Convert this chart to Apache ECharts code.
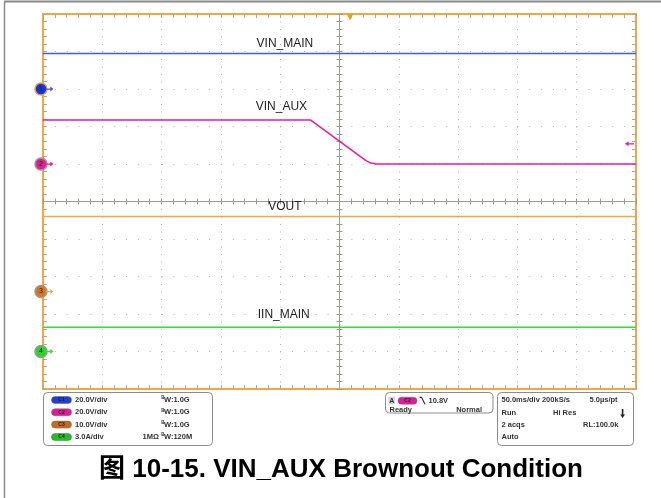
<!DOCTYPE html>
<html>
<head>
<meta charset="utf-8">
<script src="https://cdn.jsdelivr.net/npm/echarts@6/dist/echarts.min.js"></script>
<style>
html,body{margin:0;padding:0;background:#fff;}
#chart{width:661px;height:498px;}
</style>
</head>
<body>
<div id="chart"></div>
<script>
// ---- data (time in ms, 50 ms/div; values in channel units) ----
const channelNames = ['VIN_MAIN', 'VIN_AUX', 'VOUT', 'IIN_MAIN'];
const vinMainTime = [-250, 250];
const vinMainValue = [19.0, 19.0];
const vinAuxTime = [-250, -24.5, 22.0, 26.5, 31.0, 250];
const vinAuxValue = [23.5, 23.5, 1.9, 0.5, 0.0, 0.0];
const voutTime = [-250, 250];
const voutValue = [20.0, 20.0];
const iinMainTime = [-250, 250];
const iinMainValue = [1.95, 1.95];
const unitsPerDiv = [20, 20, 10, 3];
const groundDiv = [3, 1, -2.4, -4];
const scaleLabels = ['20.0V/div', '20.0V/div', '10.0V/div', '3.0A/div'];
const bwLabels = ['W:1.0G', 'W:1.0G', 'W:1.0G', 'W:120M'];
const triggerLevel = 10.8;
const triggerTime = 8.9;
const timeMin = -250, timeMax = 250, timePerDiv = 50;
const divMin = -5, divMax = 5;

// ---- styling config ----
const traceColors = ['#3c5ee6', '#f01a9a', '#f7a54d', '#33dd33'];
const markerColors = ['#1434e0', '#e0208f', '#d8771f', '#2bd42b'];
const markerBorders = ['#f0a030', '#999', '#999', '#999'];
const badgeColors = ['#1f3fd8', '#e01a9c', '#c86a1c', '#22c022'];
const labelTime = [-46, -49, -46, -47];
const labelOffset = [-10, -13, -10, -12];

const seriesTime = [vinMainTime, vinAuxTime, voutTime, iinMainTime];
const seriesValue = [vinMainValue, vinAuxValue, voutValue, iinMainValue];

const arrowRight = 'path://M0,4 L6,4 L6,1 L10,5 L6,9 L6,6 L0,6 Z';
const arrowLeft = 'path://M10,4 L4,4 L4,1 L0,5 L4,9 L4,6 L10,6 Z';
const tickGray = '#a8a8a8';
const centerGray = '#9c9a8c';

function frameX(pos, withSplit) {
  return {
    type: 'value', min: timeMin, max: timeMax, interval: timePerDiv, position: pos,
    axisLine: { show: false, onZero: false },
    axisTick: { show: true, inside: true, length: 4, lineStyle: { color: tickGray } },
    minorTick: { show: true, splitNumber: 5, length: 4, lineStyle: { color: tickGray } },
    axisLabel: { show: false },
    splitLine: { show: withSplit, lineStyle: { color: '#b0b0b0', width: 1, type: [1, 6.5] } }
  };
}
function frameY(pos, withSplit) {
  return {
    type: 'value', min: divMin, max: divMax, interval: 1, position: pos,
    axisLine: { show: false, onZero: false },
    axisTick: { show: true, inside: true, length: 4, lineStyle: { color: tickGray } },
    minorTick: { show: true, splitNumber: 5, length: 4, lineStyle: { color: tickGray } },
    axisLabel: { show: false },
    splitLine: { show: withSplit, lineStyle: { color: '#b0b0b0', width: 1, type: [1, 10.86] } }
  };
}
function centerX(inside) {
  return {
    type: 'value', min: timeMin, max: timeMax, interval: timePerDiv, position: 'bottom', offset: -187.5,
    axisLine: { show: true, onZero: false, lineStyle: { color: centerGray, width: 1 } },
    axisTick: { show: true, inside: inside, length: 3, lineStyle: { color: centerGray } },
    minorTick: { show: true, splitNumber: 5, length: 3, lineStyle: { color: centerGray } },
    axisLabel: { show: false }, splitLine: { show: false }
  };
}
function centerY(inside) {
  return {
    type: 'value', min: divMin, max: divMax, interval: 1, position: 'left', offset: -296.5,
    axisLine: { show: true, onZero: false, lineStyle: { color: centerGray, width: 1 } },
    axisTick: { show: true, inside: inside, length: 3, lineStyle: { color: centerGray } },
    minorTick: { show: true, splitNumber: 5, length: 3, lineStyle: { color: centerGray } },
    axisLabel: { show: false }, splitLine: { show: false }
  };
}

const xAxes = [frameX('bottom', true), frameX('top', false), centerX(true), centerX(false)];
const yAxes = [frameY('left', true), frameY('right', false), centerY(true), centerY(false)];
for (let i = 0; i < 4; i++) {
  yAxes.push({
    type: 'value', show: false,
    min: (divMin - groundDiv[i]) * unitsPerDiv[i],
    max: (divMax - groundDiv[i]) * unitsPerDiv[i],
    axisLine: { onZero: false }
  });
}

const series = [];
for (let i = 0; i < 4; i++) {
  const data = seriesTime[i].map((t, k) => [t, seriesValue[i][k]]);
  const levelAtLabel = (function () {
    const ts = seriesTime[i], vs = seriesValue[i];
    for (let k = 0; k < ts.length - 1; k++) {
      if (labelTime[i] >= ts[k] && labelTime[i] <= ts[k + 1]) return vs[k];
    }
    return vs[0];
  })();
  const mp = [
    { coord: [timeMin, 0], symbol: 'circle', symbolSize: 12, symbolOffset: [-2, 0],
      itemStyle: { color: markerColors[i], borderColor: markerBorders[i], borderWidth: 1.5 },
      label: { show: true, formatter: String(i + 1), position: 'inside', fontSize: 7, color: '#222',
               fontFamily: 'Liberation Sans, Arial, sans-serif' } },
    { coord: [timeMin, 0], symbol: arrowRight, symbolSize: [8, 5], symbolOffset: [6.5, 0],
      itemStyle: { color: traceColors[i] }, label: { show: false } },
    { coord: [labelTime[i], levelAtLabel], symbol: 'circle', symbolSize: 0,
      label: { show: true, formatter: channelNames[i], position: 'inside', offset: [0, labelOffset[i]],
               fontSize: 12, color: '#222', fontFamily: 'Liberation Sans, Arial, sans-serif' } }
  ];
  if (i === 1) {
    mp.push({ coord: [timeMax, triggerLevel], symbol: arrowLeft, symbolSize: [9, 5], symbolOffset: [-6.5, 0],
              itemStyle: { color: traceColors[1] }, label: { show: false } });
    mp.push({ coord: [triggerTime, yAxes[5].max], symbol: 'triangle', symbolRotate: 180, symbolSize: [6, 6],
              symbolOffset: [0, 3.5], itemStyle: { color: '#f39a1e' }, label: { show: false } });
  }
  series.push({
    type: 'line', name: channelNames[i], xAxisIndex: 0, yAxisIndex: 4 + i,
    data: data, symbol: 'none', clip: false, z: 5,
    lineStyle: { color: traceColors[i], width: 1.5 },
    markPoint: { data: mp, silent: true, animation: false, z: 6 }
  });
}

// ---- status panel & caption (UI text) ----
const FONT = "'Liberation Sans', Arial, sans-serif";
const g = [];
g.push({ type: 'line', shape: { x1: 4.5, y1: 498, x2: 4.5, y2: 1.5 }, style: { stroke: '#8a8a8a', lineWidth: 1.5 } });
g.push({ type: 'line', shape: { x1: 4, y1: 1.5, x2: 661, y2: 1.5 }, style: { stroke: '#8a8a8a', lineWidth: 2 } });
function txt(x, y, text, opts) {
  opts = opts || {};
  return { type: 'text', x: x, y: y, z: 10,
    style: { text: text, font: opts.font || ('bold 7.5px ' + FONT), fill: opts.fill || '#333',
             align: opts.align || 'left', verticalAlign: 'middle' } };
}
function box(x, y, w, h) {
  return { type: 'rect', z: 9, shape: { x: x, y: y, width: w, height: h, r: 4 },
           style: { fill: '#fff', stroke: '#8c8c8c', lineWidth: 1 } };
}
function badge(x, y, w, color, label) {
  return [
    { type: 'rect', z: 10, shape: { x: x, y: y, width: w, height: 7, r: 3.5 }, style: { fill: color, stroke: '#666', lineWidth: 0.5 } },
    txt(x + w / 2, y + 3.6, label, { font: 'bold 5px ' + FONT, fill: '#222', align: 'center' })
  ];
}
g.push(box(43.5, 392.5, 169, 53));
g.push(box(385.5, 392.5, 107.5, 20.5));
g.push(box(497.5, 392.5, 136, 53));
const rowY = [400, 412.3, 424.6, 437];
for (let i = 0; i < 4; i++) {
  g.push.apply(g, badge(51.5, rowY[i] - 3.5, 20, badgeColors[i], 'C' + (i + 1)));
  g.push(txt(75, rowY[i], scaleLabels[i]));
  g.push(txt(161.2, rowY[i] - 2, 'B', { font: 'bold 4.5px ' + FONT }));
  g.push(txt(164, rowY[i], bwLabels[i]));
}
g.push(txt(142.5, rowY[3], '1MΩ'));
// trigger box
g.push({ type: 'rect', z: 10, shape: { x: 388.5, y: 396.5, width: 6.5, height: 8 }, style: { fill: '#d8d8d8' } });
g.push(txt(391.7, 400.7, 'A', { font: 'bold 7px ' + FONT, align: 'center' }));
g.push.apply(g, badge(398, 397.2, 19, badgeColors[1], 'C2'));
g.push({ type: 'polyline', z: 10, shape: { points: [[419.5, 397.3], [421.5, 397.3], [425, 404.3]] }, style: { stroke: '#333', lineWidth: 1.2, fill: null } });
g.push(txt(428.5, 400.5, '10.8V'));
g.push(txt(389.5, 410.3, 'Ready'));
g.push(txt(482, 410.3, 'Normal', { align: 'right' }));
// acquisition box
g.push(txt(501.5, 400, '50.0ms/div 200kS/s'));
g.push(txt(589.5, 400, '5.0µs/pt'));
g.push(txt(501.5, 413, 'Run'));
g.push(txt(553, 413, 'Hi Res'));
g.push({ type: 'polygon', z: 10, shape: { points: [[621.8, 409], [623.4, 409], [623.4, 414.5], [625, 414.5], [622.6, 418], [620.2, 414.5], [621.8, 414.5]] }, style: { fill: '#222' } });
g.push(txt(501.5, 425, '2 acqs'));
g.push(txt(583, 425, 'RL:100.0k'));
g.push(txt(501.5, 437.3, 'Auto'));
// caption
g.push({ type: 'text', x: 341, y: 470, z: 10,
  style: { text: '图 10-15. VIN_AUX Brownout Condition',
           font: "bold 26px 'Liberation Sans', Arial, 'Noto Sans CJK SC', sans-serif",
           fill: '#000', align: 'center', verticalAlign: 'middle' } });

const chart = echarts.init(document.getElementById('chart'), null, { renderer: 'canvas' });
chart.setOption({
  animation: false,
  backgroundColor: '#fff',
  grid: { left: 43, top: 14, width: 593, height: 375, show: true, borderColor: '#f6a63a', borderWidth: 2, backgroundColor: 'transparent' },
  xAxis: xAxes,
  yAxis: yAxes,
  series: series,
  graphic: g
});
</script>
</body>
</html>
